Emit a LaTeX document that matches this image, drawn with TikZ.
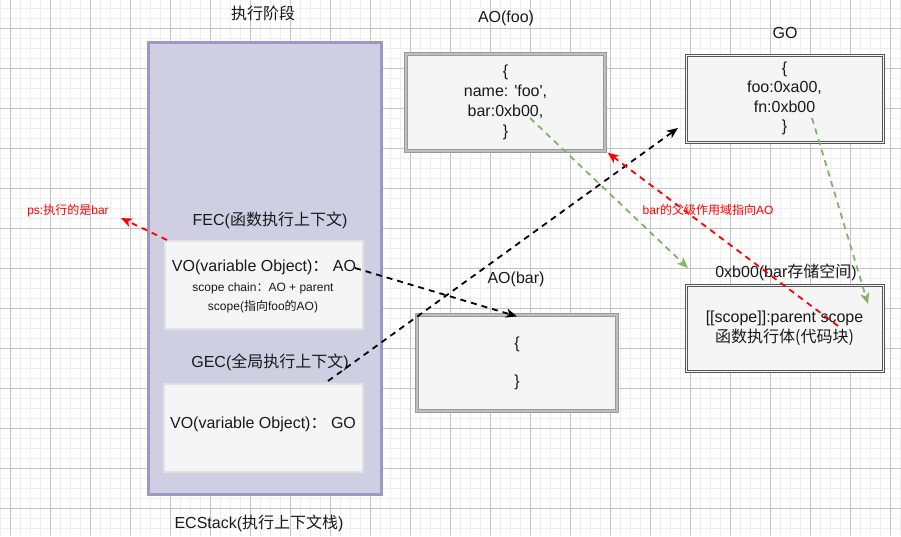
\documentclass[tikz,border=0pt]{standalone}
\usepackage{fontspec}
\setmainfont{Liberation Sans}
\newfontfamily\plainfont{Liberation Sans}
\newfontfamily\cjk{Noto Sans CJK SC}
\newcommand{\zh}[1]{{\cjk #1}}
\usetikzlibrary{positioning, arrows.meta}
\definecolor{stackfill}{HTML}{D0CEE2}
\definecolor{stackline}{HTML}{9C98C2}
\definecolor{boxfill}{HTML}{F5F5F5}
\definecolor{ctxline}{HTML}{E2E2E2}
\definecolor{objline}{HTML}{999999}
\definecolor{objinner}{HTML}{BEBEBE}
\definecolor{memoline}{HTML}{555555}
\definecolor{linkgreen}{HTML}{82B366}
\definecolor{gridmajor}{HTML}{C4C4C4}
\definecolor{gridminor}{HTML}{EEEEEE}

\begin{document}
\begin{tikzpicture}[x=1pt, y=-1pt,
bigtext/.style={font=\fontsize{16}{20}\selectfont, text=black!90, inner sep=0pt},
smalltext/.style={font=\fontsize{12}{19}\selectfont, text=black!90, inner sep=0pt},
note/.style={font=\fontsize{12}{14}\selectfont, text=red, inner sep=0pt},
stackbox/.style={rectangle, fill=stackfill, draw=stackline, line width=3pt},
ctxbox/.style={rectangle, fill=boxfill, draw=ctxline, line width=1.5pt,
  align=center},
objbox/.style={rectangle, fill=boxfill, draw=objline, line width=1.3pt,
  double=objinner, double distance=1.2pt, align=center},
memobox/.style={rectangle, fill=boxfill, draw=memoline, line width=1pt,
  align=center},
memoframe/.style={draw=memoline, line width=1pt},
link/.style={line width=1.8pt, dash pattern=on 6pt off 5pt,
  -{Stealth[length=11pt, width=9pt, inset=3pt]}},
blacklink/.style={link, draw=black},
redlink/.style={link, draw=red},
greenlink/.style={link, draw=linkgreen}
]
\useasboundingbox (0,0) rectangle (901,536);
\fill[white] (0,0) rectangle (901,536);

% grid
\foreach \gx in {0,10,...,900}
  \draw[gridminor, line width=0.6pt] (\gx,0) -- (\gx,536);
\foreach \gy in {8,18,...,528}
  \draw[gridminor, line width=0.6pt] (0,\gy) -- (901,\gy);
\foreach \gx in {10,50,...,890}
  \draw[gridmajor, line width=0.7pt] (\gx,0) -- (\gx,536);
\foreach \gy in {28,68,...,508}
  \draw[gridmajor, line width=0.7pt] (0,\gy) -- (901,\gy);

% execution context stack
\node[stackbox, minimum width=233pt, minimum height=452pt] (stack) at (264.5,268) {};
\node[bigtext] (phase) at (263,13) {\zh{执行阶段}};
\node[bigtext] (stackname) at (259,523) {ECStack(\zh{执行上下文栈})};

\node[bigtext] (fecname) at (270,220) {FEC(\zh{函数执行上下文})};
\node[ctxbox, minimum width=198pt, minimum height=88pt] (fec) at (264,285) {};
\node[bigtext] (fecvo) at (264,267) {VO(variable Object)\zh{：} AO};
\node[smalltext, align=center] (fecscope) at (263,297.5)
    {scope chain\zh{：}AO + parent\\ scope(\zh{指向}foo\zh{的}AO)};

\node[bigtext] (gecname) at (270,362) {GEC(\zh{全局执行上下文})};
\node[ctxbox, minimum width=199pt, minimum height=88pt] (gec) at (263.5,428) {};
\node[bigtext] (gecvo) at (263,424) {VO(variable Object)\zh{：} GO};

% objects
\node[bigtext] (aofooname) at (506,18) {AO(foo)};
\node[objbox, minimum width=199pt, minimum height=97pt, bigtext] (aofoo) at (505.5,102.5)
    {\{\\ {\plainfont name: 'foo',}\\ bar:0xb00,\\ \}};

\node[bigtext] (goname) at (785,33) {GO};
\node[memobox, minimum width=199pt, minimum height=89pt, bigtext,
  font=\fontsize{16}{19.3}\selectfont] (go) at (784.5,98.5)
    {\{\\ foo:0xa00,\\ fn:0xb00\\ \}};

\node[bigtext] (aobarname) at (516,279) {AO(bar)};
\node[objbox, minimum width=200pt, minimum height=96pt, bigtext,
  font=\fontsize{16}{19}\selectfont] (aobar) at (517,363)
    {\{\\ \strut\\ \}};

\node[bigtext] (barname) at (786,272) {0xb00(bar\zh{存储空间})};
\node[memobox, minimum width=199pt, minimum height=88pt, bigtext] (barfn) at (784.5,328)
    {[[scope]]:parent scope\\ \zh{函数执行体(代码块)}};

% inner frame of the double lined boxes
\foreach \memo in {go,barfn}
  \draw[memoframe] ([shift={(2.5,2.5)}]\memo.north west)
    rectangle ([shift={(-2.5,-2.5)}]\memo.south east);

% notes
\node[note] (ps) at (68,211) {ps:\zh{执行的是}bar};
\node[note] (parentnote) at (708,210) {bar\zh{的父级作用域指向}AO};

% connectors
\coordinate (fecstart) at (167,240);
\coordinate (pstip) at (121,218);
\coordinate (aostart) at (355,268);
\coordinate (gecstart) at (328,381);
\coordinate (gotip) at (678,128);
\coordinate (scopestart) at (838,326);
\coordinate (barstart) at (530,118);
\coordinate (bartip) at (688,268);
\coordinate (fnstart) at (812,118);
\coordinate (fntip) at (868,304);

\draw[redlink] (fecstart) -- (pstip);
\draw[blacklink] (aostart) -- ([yshift=-2pt]aobar.north);
\draw[blacklink] (gecstart) -- (gotip);
\draw[greenlink] (barstart) -- (bartip);
\draw[greenlink] (fnstart) -- (fntip);
\draw[redlink] (scopestart) -- ([xshift=2pt,yshift=-1pt]aofoo.south east);
\end{tikzpicture}
\end{document}
